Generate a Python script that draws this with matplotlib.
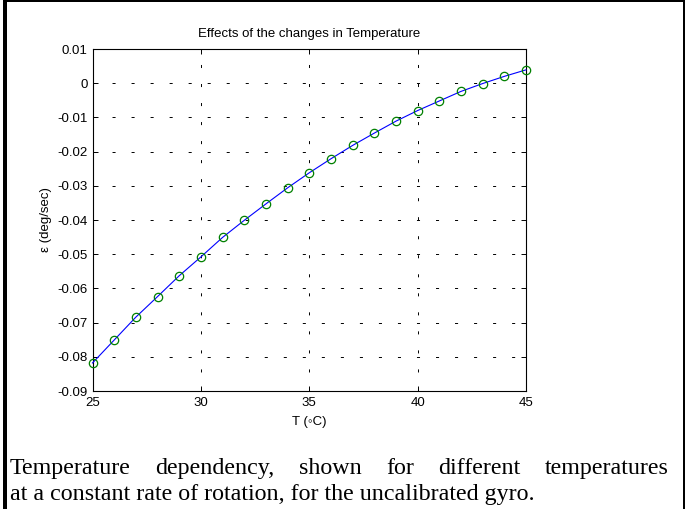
import matplotlib
matplotlib.use("Agg")
import matplotlib.pyplot as plt
from matplotlib.patches import Rectangle

# values
temps = [25, 26, 27, 28, 29, 30, 31, 32, 33, 34, 35,
         36, 37, 38, 39, 40, 41, 42, 43, 44, 45]
epsilon = [-0.0818, -0.0751, -0.0684, -0.0624, -0.0563, -0.0508, -0.0451,
           -0.0401, -0.0353, -0.0306, -0.0262, -0.0221, -0.0182, -0.0146,
           -0.0111, -0.0080, -0.0052, -0.0024, -0.0001, 0.0020, 0.0039]
x_ticks = [25, 30, 35, 40, 45]
y_ticks = [0.01, 0, -0.01, -0.02, -0.03, -0.04, -0.05, -0.06, -0.07, -0.08, -0.09]
y_tick_labels = ["0.01", "0", "-0.01", "-0.02", "-0.03", "-0.04", "-0.05",
                 "-0.06", "-0.07", "-0.08", "-0.09"]
title = "Effects of the changes in Temperature"
x_label = "T (\u25e6C)"
y_label = "\u03b5 (deg/sec)"
caption_lines = ["Temperature dependency, shown for different temperatures",
                 "at a constant rate of rotation, for the uncalibrated gyro."]

plt.rcParams['font.family'] = ['Liberation Sans', 'DejaVu Sans']
plt.rcParams['lines.scale_dashes'] = False

W, H = 687, 509
fs = 9.5
fig = plt.figure(figsize=(W / 100, H / 100), dpi=100)

# axes box in pixels: left 92.5, right 526, top 49, bottom 391
ax = fig.add_axes([92.5 / W, 1 - 391 / H, 433.5 / W, 342 / H])
ax.plot(temps, epsilon, color='b', lw=0.8, marker='o', mfc='none',
        mec=(0, 0.5, 0), ms=6, mew=0.9, clip_on=False, zorder=3)
ax.set_xlim(25, 45)
ax.set_ylim(-0.09, 0.01)
ax.set_xticks(x_ticks)
ax.set_xticklabels([str(t) for t in x_ticks])
ax.set_yticks(y_ticks)
ax.set_yticklabels(y_tick_labels)
ax.tick_params(direction='in', length=3.5, width=0.7, top=True, right=True,
               labelsize=fs, colors='k')
ax.tick_params(axis='x', pad=4)
ax.tick_params(axis='y', pad=3.5)
ax.grid(True, color='k', lw=0.7, linestyle=(0, (2.2, 11.5)))
for s in ax.spines.values():
    s.set_linewidth(0.8)

cx = (92.5 + 526) / 2 / W
fig.text(cx, 1 - 34 / H, title, ha='center', va='center', fontsize=fs)
fig.text(cx, 1 - 422 / H, x_label, ha='center', va='center', fontsize=fs)
fig.text(46 / W, 1 - 220 / H, y_label, ha='center', va='center',
         rotation=90, fontsize=fs)

# caption, first line justified between x=10 and x=669
renderer = fig.canvas.get_renderer()
cap_size = 10
probe = fig.text(0, 0, caption_lines[1], family='Liberation Serif', fontsize=cap_size)
w2 = probe.get_window_extent(renderer).width
probe.remove()
cap_size = cap_size * 486 / w2 * 1.08

left, right = 10, 669
words = caption_lines[0].split(" ")
widths = []
for wd in words:
    t = fig.text(0, 0, wd, family='Liberation Serif', fontsize=cap_size)
    widths.append(t.get_window_extent(renderer).width)
    t.remove()
gap = (right - left - sum(widths)) / (len(words) - 1)
x = left
for wd, wi in zip(words, widths):
    fig.text(x / W, 1 - 474 / H, wd, family='Liberation Serif', fontsize=cap_size,
             va='baseline', ha='left')
    x += wi + gap
fig.text(left / W, 1 - 500 / H, caption_lines[1], family='Liberation Serif',
         fontsize=cap_size, va='baseline', ha='left')

# frame around the figure: left, top and right edges
fig.add_artist(Rectangle((3 / W, 0), 3.5 / W, 1, transform=fig.transFigure,
                         color='k', lw=0))
fig.add_artist(Rectangle((3 / W, 1 - 2 / H), 682 / W, 2 / H, transform=fig.transFigure,
                         color='k', lw=0))
fig.add_artist(Rectangle((682.5 / W, 0), 2.5 / W, 1, transform=fig.transFigure,
                         color='k', lw=0))

fig.savefig("out.png", dpi=100)
